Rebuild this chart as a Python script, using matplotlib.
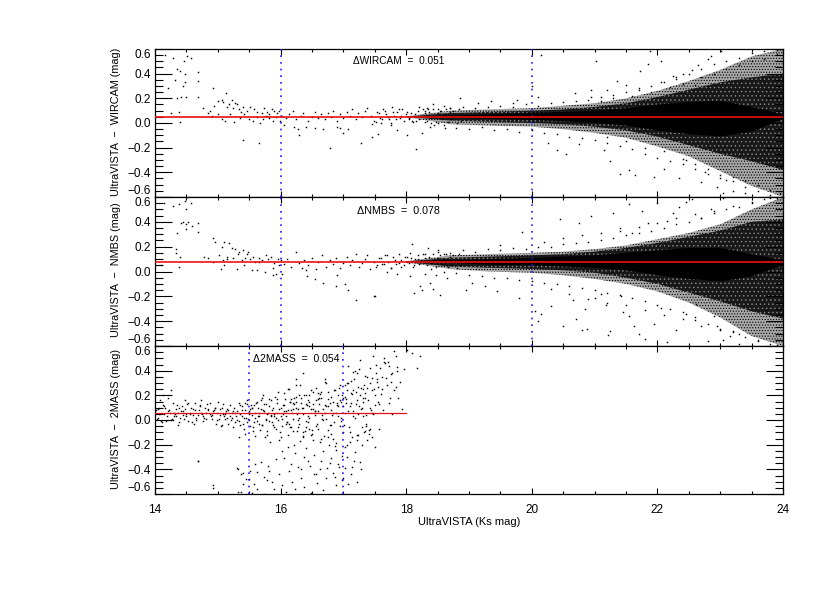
import matplotlib
matplotlib.use("Agg")
import matplotlib.pyplot as plt

plt.rcParams['font.family'] = ['Liberation Sans', 'DejaVu Sans']
plt.rcParams['hatch.linewidth'] = 0.5

# ---- values ----
offset_wircam = 0.051
offset_nmbs = 0.078
offset_2mass = 0.054
x_ticks = [14, 16, 18, 20, 22, 24]
y_ticks = [-0.6, -0.4, -0.2, 0.0, 0.2, 0.4, 0.6]

# edges of the crowded band: outer speckle, denser speckle, solid core
band_x = [18.0, 18.7, 19.3, 20.0, 20.5, 21.0, 21.5, 22.0, 22.5, 23.0, 23.5, 24.0]
w_out_hi = [0.055, 0.10, 0.11, 0.12, 0.14, 0.16, 0.20, 0.26, 0.34, 0.43, 0.54, 0.60]
w_out_lo = [0.047, -0.01, -0.02, -0.03, -0.05, -0.08, -0.12, -0.19, -0.27, -0.39, -0.51, -0.60]
w_mid_hi = [0.052, 0.08, 0.09, 0.10, 0.11, 0.13, 0.16, 0.21, 0.27, 0.33, 0.37, 0.40]
w_mid_lo = [0.050, 0.02, 0.01, 0.00, -0.01, -0.03, -0.06, -0.11, -0.18, -0.25, -0.31, -0.38]
w_core_hi = [0.051, 0.06, 0.07, 0.085, 0.09, 0.10, 0.12, 0.15, 0.17, 0.18, 0.13, 0.07]
w_core_lo = [0.051, 0.04, 0.035, 0.025, 0.015, 0.00, -0.02, -0.06, -0.09, -0.11, -0.07, 0.03]

n_out_hi = [0.083, 0.13, 0.14, 0.15, 0.16, 0.18, 0.21, 0.26, 0.31, 0.38, 0.50, 0.60]
n_out_lo = [0.073, 0.02, 0.00, -0.01, -0.03, -0.06, -0.10, -0.16, -0.25, -0.37, -0.52, -0.60]
n_mid_hi = [0.080, 0.11, 0.12, 0.13, 0.14, 0.16, 0.19, 0.23, 0.28, 0.33, 0.40, 0.42]
n_mid_lo = [0.076, 0.04, 0.03, 0.02, 0.01, -0.01, -0.05, -0.10, -0.17, -0.24, -0.32, -0.38]
n_core_hi = [0.078, 0.09, 0.10, 0.11, 0.12, 0.13, 0.15, 0.17, 0.19, 0.19, 0.14, 0.09]
n_core_lo = [0.078, 0.07, 0.055, 0.05, 0.04, 0.03, 0.01, -0.03, -0.06, -0.08, -0.04, 0.05]

# individual points, upper panel
w_x = [14.16,14.29,14.51,14.57,14.46,14.35,14.40,14.48,14.69,14.32,14.48,14.45,14.69,14.21,14.93,15.13,14.35,14.42,14.49,14.69,
       15.06,15.22,15.27,15.31,14.77,14.88,14.94,15.00,15.08,15.14,15.18,15.25,15.33,15.40,15.46,15.52,15.58,15.63,15.70,15.74,
       15.78,15.82,15.86,15.90,15.95,15.98,14.25,14.39,14.40,14.85,14.90,15.00,15.07,15.11,15.20,15.26,15.35,15.37,15.42,15.50,
       15.56,15.63,15.67,15.72,15.77,15.82,15.88,15.93,15.99,16.03,16.08,16.14,16.20,16.25,16.32,16.36,16.43,16.50,16.55,16.59,
       16.65,16.70,16.75,16.80,16.84,16.90,16.95,17.00,17.05,17.10,17.14,17.20,17.24,17.30,17.34,17.38,17.44,17.49,17.53,17.58,
       17.63,17.68,17.72,17.77,17.80,17.85,17.90,17.94,18.00,18.05,16.05,16.22,16.30,16.40,16.55,16.68,16.78,16.90,17.00,17.08,
       17.28,17.45,17.60,17.75,17.85,18.02,18.20,18.30,18.42,18.55,18.62,18.70,18.50,18.35,18.25,18.15,18.10,18.45,18.60,18.33,
       15.40,15.66,16.28,16.95,17.45,17.55,18.16,18.38,
       20.14,20.00,21.03,20.95,19.77,20.68,20.95,21.20,21.35,21.50,21.70,21.85,22.05,22.25,22.30,22.60,22.05,22.55,22.85,23.02,
       22.45,22.10,21.40,21.15,20.75,20.55,20.40,20.25,21.65,21.95,21.55,21.25,22.35,22.70,22.95,23.20,23.40,22.75,23.10,23.05,
       19.35,19.15,18.85,19.70,20.10,21.72,21.88,22.40,22.65,22.80]
w_y = [0.55,0.53,0.54,0.53,0.50,0.44,0.42,0.40,0.41,0.35,0.33,0.30,0.34,0.28,0.28,0.24,0.20,0.21,0.21,0.21,
       0.19,0.19,0.16,0.15,0.12,0.10,0.14,0.18,0.17,0.13,0.15,0.12,0.11,0.13,0.10,0.13,0.11,0.09,0.08,0.12,
       0.09,0.07,0.11,0.10,0.08,0.10,0.08,0.09,0.01,0.08,0.06,0.07,0.03,0.02,0.07,0.01,0.04,0.09,0.07,0.03,
       0.02,0.05,0.00,0.03,0.06,0.04,0.02,0.05,0.02,0.06,0.04,0.07,0.10,0.03,0.06,0.08,0.02,0.05,0.09,0.04,
       0.07,0.03,0.08,0.05,0.10,0.02,0.07,0.04,0.09,0.06,0.11,0.03,0.08,0.05,0.10,0.12,0.06,0.02,0.09,0.04,
       0.11,0.07,0.03,0.13,0.06,0.09,0.04,0.11,0.07,0.03,-0.02,-0.03,-0.10,-0.03,-0.04,-0.05,-0.20,-0.03,-0.08,-0.05,
       -0.16,-0.01,0.00,-0.02,-0.06,-0.10,0.13,0.01,0.15,0.10,-0.04,0.12,0.00,0.11,-0.08,-0.21,0.02,-0.02,0.14,0.12,
       -0.14,-0.16,-0.05,-0.04,-0.11,-0.09,0.02,-0.03,
       0.55,0.30,0.50,0.21,0.19,0.24,0.27,0.27,0.34,0.31,0.27,0.48,0.33,0.38,0.36,0.31,0.50,0.43,0.54,0.58,
       -0.30,-0.37,-0.41,-0.22,-0.17,-0.25,-0.22,-0.16,-0.42,-0.44,-0.38,-0.31,-0.45,-0.48,-0.52,-0.55,-0.57,-0.40,-0.46,-0.57,
       0.18,0.16,0.20,0.16,0.21,0.42,0.58,0.40,0.47,0.52]

# extra points along the fringe of the band, upper panel
w2_x = [18.3,18.5,18.7,18.9,19.1,19.3,19.5,19.7,19.9,20.1,20.3,20.5,20.7,20.9,21.1,21.3,21.5,21.7,21.9,22.1,22.3,22.5,22.7,22.9,23.1,23.3,23.5,23.7,23.9,
        18.4,18.6,18.8,19.0,19.2,19.4,19.6,19.8,20.0,20.2,20.4,20.6,20.8,21.0,21.2,21.4,21.6,21.8,22.0,22.2,22.4,22.6,22.8,23.0,23.2,23.4,23.6,23.8,
        21.1,21.3,21.6,21.9,22.2,22.4,22.7,22.9,23.1,23.3,23.5,23.7,23.9,21.2,21.5,21.8,22.1,22.4,22.6,22.8,23.0,23.2,23.4,23.6,23.8,23.95,
        17.52,17.57,17.62,17.66,17.71,17.75,17.79,17.83,17.88,17.92,17.96,18.01,18.04,18.08,18.11,18.14,18.18,18.21,18.24,18.27,
        18.30,18.33,18.36,18.39,18.42,18.45,18.48,18.51,18.54,18.57,18.60,18.63,18.66,18.69,18.72,18.75,18.78,18.81,18.84,18.87]
w2_y = [0.10,0.11,0.12,0.13,0.12,0.13,0.14,0.13,0.15,0.14,0.16,0.17,0.18,0.19,0.21,0.23,0.25,0.28,0.30,0.33,0.37,0.40,0.44,0.48,0.50,0.53,0.57,0.58,0.59,
        0.00,-0.02,-0.04,-0.05,-0.03,-0.06,-0.05,-0.07,-0.06,-0.08,-0.09,-0.11,-0.12,-0.14,-0.16,-0.19,-0.21,-0.25,-0.28,-0.31,-0.33,-0.37,-0.41,-0.45,-0.47,-0.52,-0.55,-0.58,
        0.18,0.20,0.22,0.25,0.29,0.32,0.37,0.40,0.44,0.47,0.50,0.52,0.56,-0.11,-0.15,-0.20,-0.23,-0.29,-0.33,-0.37,-0.42,-0.44,-0.47,-0.50,-0.54,-0.57,
        0.01,0.08,0.03,0.10,0.05,0.00,0.09,0.03,0.11,0.06,0.02,0.09,0.04,0.08,0.01,0.07,0.10,0.03,0.06,0.11,
        0.08,0.02,0.09,0.04,0.11,0.06,0.01,0.08,0.10,0.03,0.07,0.11,0.01,0.09,0.03,0.10,0.06,0.00,0.11,0.02]

# individual points, middle panel
n_x = [14.14,14.29,14.38,14.48,14.53,14.57,14.50,14.44,14.42,14.50,14.53,14.59,14.69,14.35,14.49,14.69,14.33,14.33,14.40,14.93,
       14.95,15.06,15.10,15.18,15.27,15.33,15.40,15.46,15.15,15.22,14.78,14.85,14.92,15.02,15.08,15.14,15.25,15.32,15.38,15.44,15.48,15.52,
       15.56,15.60,15.65,15.70,15.76,15.80,15.85,15.90,15.96,16.00,14.10,14.39,15.05,15.10,15.30,15.42,15.55,15.66,15.75,15.88,15.92,15.98,
       16.05,16.10,16.17,16.25,16.30,16.34,16.38,16.44,16.50,16.56,16.60,16.66,16.72,16.78,16.83,16.88,16.94,17.00,17.06,17.10,
       17.14,17.20,17.25,17.30,17.35,17.42,17.48,17.53,17.60,17.65,17.70,17.76,17.82,17.88,17.92,17.98,18.02,18.06,18.12,18.18,
       16.40,16.42,16.55,16.68,16.88,16.90,17.03,17.20,17.50,17.70,18.06,18.10,18.22,18.30,18.35,18.42,18.48,18.54,18.60,18.65,
       18.38,18.25,18.12,17.48,17.85,18.50,17.08,17.38,16.02,15.88,15.62,
       19.50,19.85,20.45,20.75,20.95,21.30,21.55,21.75,22.00,22.15,22.35,22.55,22.70,21.40,21.60,21.85,22.25,22.45,22.85,23.05,
       20.30,20.05,20.50,20.70,21.00,21.25,21.45,21.70,21.95,21.18,20.88,21.55,21.80,22.05,22.30,22.60,22.80,22.95,23.15,23.30,
       19.05,19.25,18.95,19.45,19.80,20.15,20.10,20.80,21.22,20.65,20.85,21.10,21.42,21.62,22.15,22.45,22.62,23.20,22.90,23.05]
n_y = [0.55,0.53,0.54,0.57,0.60,0.55,0.50,0.40,0.39,0.38,0.40,0.37,0.39,0.31,0.34,0.32,0.18,0.15,0.12,0.27,
       0.24,0.20,0.24,0.23,0.18,0.16,0.17,0.14,0.10,0.19,0.12,0.11,0.08,0.13,0.09,0.12,0.11,0.14,0.09,0.11,0.16,0.10,
       0.12,0.08,0.11,0.09,0.13,0.10,0.12,0.07,0.10,0.09,0.05,0.04,0.02,0.05,0.02,0.05,0.01,0.08,0.00,0.03,-0.02,0.05,
       0.06,0.10,0.04,0.16,0.07,0.03,0.09,0.05,0.11,0.02,0.08,0.13,0.04,0.09,0.06,0.11,0.03,0.07,0.12,0.05,
       0.09,0.14,0.04,0.07,0.10,0.02,0.08,0.05,0.11,0.06,0.13,0.03,0.09,0.07,0.04,0.12,0.08,0.15,0.05,0.10,
       0.01,-0.04,-0.06,-0.09,-0.12,-0.03,-0.10,-0.23,-0.20,0.00,-0.04,0.22,-0.12,-0.02,0.19,-0.14,-0.03,-0.19,0.14,-0.05,
       -0.09,-0.15,-0.17,-0.20,-0.02,0.17,-0.15,0.13,-0.02,-0.03,0.01,
       0.21,0.32,0.42,0.39,0.45,0.47,0.54,0.49,0.55,0.41,0.52,0.58,0.43,0.35,0.31,0.39,0.47,0.56,0.50,0.59,
       -0.28,-0.32,-0.44,-0.38,-0.21,-0.48,-0.33,-0.50,-0.42,-0.27,-0.46,-0.36,-0.54,-0.29,-0.47,-0.39,-0.56,-0.44,-0.52,-0.58,
       -0.09,-0.12,-0.15,-0.16,-0.21,-0.34,-0.40,-0.47,-0.51,-0.23,-0.30,-0.18,-0.20,-0.44,-0.57,-0.34,-0.26,-0.48,-0.36,-0.55]

# extra points along the fringe of the band, middle panel
n2_x = [18.3,18.5,18.7,18.9,19.1,19.3,19.5,19.7,19.9,20.1,20.3,20.5,20.7,20.9,21.1,21.3,21.5,21.7,21.9,22.1,22.3,22.5,22.7,22.9,23.1,23.3,23.5,23.7,23.9,
        18.4,18.6,18.8,19.0,19.2,19.4,19.6,19.8,20.0,20.2,20.4,20.6,20.8,21.0,21.2,21.4,21.6,21.8,22.0,22.2,22.4,22.6,22.8,23.0,23.2,23.4,23.6,23.8,
        20.2,20.5,20.8,21.1,21.4,21.7,22.0,22.3,22.6,22.9,23.2,23.5,23.8,20.3,20.6,20.9,21.2,21.5,21.8,22.1,22.4,22.7,23.0,23.3,23.6,23.9,
        17.52,17.57,17.62,17.66,17.71,17.75,17.79,17.83,17.88,17.92,17.96,18.01,18.04,18.08,18.11,18.14,18.18,18.21,18.24,18.27,
        18.30,18.33,18.36,18.39,18.42,18.45,18.48,18.51,18.54,18.57,18.60,18.63,18.66,18.69,18.72,18.75,18.78,18.81,18.84,18.87]
n2_y = [0.14,0.16,0.15,0.17,0.16,0.18,0.17,0.19,0.18,0.20,0.20,0.22,0.23,0.24,0.25,0.27,0.29,0.31,0.33,0.35,0.38,0.40,0.43,0.47,0.50,0.52,0.55,0.58,0.59,
        0.02,0.00,-0.01,-0.03,-0.04,-0.05,-0.05,-0.07,-0.08,-0.09,-0.10,-0.12,-0.13,-0.15,-0.17,-0.19,-0.21,-0.24,-0.27,-0.30,-0.33,-0.37,-0.42,-0.46,-0.49,-0.53,-0.56,-0.58,
        0.24,0.27,0.29,0.31,0.33,0.36,0.39,0.43,0.46,0.49,0.53,0.56,0.59,-0.14,-0.18,-0.22,-0.25,-0.27,-0.31,-0.35,-0.38,-0.44,-0.47,-0.50,-0.55,-0.59,
        0.04,0.11,0.06,0.13,0.08,0.03,0.12,0.06,0.14,0.09,0.05,0.12,0.07,0.11,0.04,0.10,0.13,0.06,0.09,0.14,
        0.11,0.05,0.12,0.07,0.14,0.09,0.04,0.11,0.13,0.06,0.10,0.14,0.04,0.12,0.06,0.13,0.09,0.03,0.14,0.05]

# individual points, lower panel
m_x = [14.02,14.05,14.08,14.12,14.15,14.18,14.21,14.25,14.28,14.30,14.33,14.37,14.40,14.43,14.47,14.50,14.53,14.57,14.60,14.63,
       14.66,14.70,14.73,14.77,14.80,14.83,14.87,14.90,14.93,14.97,15.00,15.03,15.07,15.10,15.13,15.17,15.20,15.23,15.27,15.30,
       14.03,14.07,14.11,14.16,14.20,14.24,14.29,14.34,14.38,14.42,14.46,14.51,14.55,14.59,14.64,14.68,14.72,14.76,14.81,14.85,
       14.89,14.94,14.98,15.02,15.06,15.11,15.15,15.19,15.24,15.28,14.06,14.13,14.27,14.31,14.36,14.44,14.48,14.62,14.75,14.82,
       14.95,15.05,15.12,15.25,15.33,14.69,14.92,15.32,15.34,15.38,15.41,15.44,15.47,15.49,15.52,15.55,15.58,15.61,15.64,15.67,
       15.70,15.73,15.76,15.79,15.82,15.85,15.88,15.91,15.94,15.97,15.35,15.39,15.43,15.46,15.50,15.53,15.56,15.60,15.63,15.66,
       15.69,15.72,15.75,15.78,15.81,15.84,15.87,15.90,15.93,15.96,15.99,15.36,15.42,15.48,15.54,15.59,15.65,15.71,15.77,15.83,
       15.89,15.95,15.37,15.40,15.45,15.51,15.57,15.62,15.68,15.74,15.80,15.86,15.92,15.98,
       16.00,16.03,16.06,16.09,16.12,16.15,16.18,16.21,16.24,16.27,16.30,16.33,16.36,16.39,16.42,16.45,16.48,16.51,16.54,16.57,
       16.60,16.63,16.66,16.69,16.72,16.75,16.78,16.81,16.84,16.87,16.90,16.93,16.96,16.99,
       16.01,16.04,16.07,16.10,16.13,16.16,16.19,16.22,16.25,16.28,16.31,16.34,16.37,16.40,16.43,16.46,16.49,16.52,16.55,16.58,
       16.61,16.64,16.67,16.70,16.73,16.76,16.79,16.82,16.85,16.88,16.91,16.94,16.97,
       16.02,16.05,16.08,16.11,16.14,16.17,16.20,16.23,16.26,16.29,16.32,16.35,16.38,16.41,16.44,16.47,16.50,16.53,16.56,16.59,
       16.62,16.65,16.68,16.71,16.74,16.77,16.80,16.83,16.86,16.89,16.92,16.95,16.98,
       16.03,16.08,16.13,16.18,16.23,16.28,16.33,16.38,16.43,16.48,16.53,16.58,16.63,16.68,16.73,16.78,16.83,16.88,16.93,16.98,
       16.02,16.06,16.11,16.16,16.21,16.26,16.31,16.36,16.41,16.46,16.51,16.56,16.61,16.66,16.71,16.76,16.81,16.86,16.91,16.96,
       17.00,17.03,17.06,17.09,17.12,17.15,17.18,17.21,17.24,17.27,17.30,17.33,17.36,17.39,17.42,17.45,17.48,17.51,17.54,17.57,
       17.60,17.63,17.66,17.69,17.72,17.75,17.78,17.81,17.84,17.87,17.90,17.93,17.96,
       17.01,17.04,17.07,17.10,17.13,17.16,17.19,17.22,17.25,17.28,17.31,17.34,17.37,17.40,17.43,17.46,17.49,17.52,17.55,
       17.02,17.05,17.08,17.11,17.14,17.17,17.20,17.23,17.26,17.29,17.32,17.35,17.38,17.41,17.44,17.47,17.50,17.53,17.56,17.59,
       17.62,17.65,17.68,17.71,17.74,17.77,17.80,17.83,17.86,
       17.02,17.06,17.10,17.14,17.18,17.22,17.26,17.30,17.34,17.38,17.42,17.46,17.50,
       17.00,17.03,17.07,17.12,17.17,17.22,17.28,17.33,17.36,17.47,
       18.02,18.10,18.17,18.22,15.30,15.32,15.37,15.40,15.49,15.55,15.59,15.63,14.69,14.93,15.73,15.78,15.82,15.89]
m_y = [0.08,0.02,0.16,0.12,0.05,-0.01,0.07,0.24,0.14,0.03,0.09,0.06,0.02,0.11,0.16,0.05,-0.01,0.10,0.04,0.14,
       0.02,0.08,0.16,0.03,0.10,0.13,0.05,0.01,0.07,-0.03,0.15,0.04,0.10,0.03,0.07,-0.03,0.12,0.02,0.06,0.00,
       0.01,0.05,-0.02,0.10,0.18,0.06,0.00,0.03,0.10,0.07,0.01,0.13,0.06,-0.02,0.08,0.04,0.11,-0.01,0.06,0.09,
       0.03,0.08,0.06,0.01,-0.04,0.05,0.09,0.03,0.07,-0.02,0.10,0.20,0.01,0.06,-0.04,0.04,0.09,-0.03,0.05,0.01,
       0.10,-0.05,0.01,-0.06,0.14,-0.33,-0.55,-0.40,-0.14,0.08,0.02,-0.11,0.16,0.05,-0.05,0.10,-0.02,0.14,0.03,-0.08,
       0.18,0.07,0.00,-0.12,0.11,0.04,-0.04,0.19,0.06,-0.16,-0.04,0.03,0.14,-0.02,0.07,0.12,-0.09,0.02,0.15,-0.03,
       0.09,0.20,-0.14,0.05,-0.01,0.16,0.08,-0.06,0.02,0.23,-0.10,0.12,-0.07,0.01,0.10,-0.13,0.06,-0.04,0.13,-0.18,
       0.03,0.17,-0.58,-0.43,-0.48,-0.41,-0.52,-0.56,-0.34,-0.46,-0.37,-0.50,-0.32,-0.44,
       0.10,-0.05,0.22,0.03,-0.12,0.15,0.06,-0.20,0.28,0.09,-0.03,0.18,0.38,-0.09,0.12,0.02,0.24,-0.16,0.07,0.16,
       -0.07,0.21,0.04,-0.13,0.30,0.11,-0.04,0.19,0.06,-0.21,0.14,0.26,0.02,-0.10,
       -0.14,0.05,0.17,-0.02,0.25,0.08,-0.09,0.13,0.33,0.00,-0.17,0.10,0.20,-0.06,0.03,0.15,-0.12,0.23,0.07,-0.03,
       0.18,-0.15,0.09,0.31,0.01,-0.08,0.14,0.04,0.24,-0.19,0.11,-0.05,0.20,
       -0.25,-0.31,0.07,-0.22,-0.03,-0.36,0.14,-0.27,-0.09,0.20,-0.40,-0.14,-0.30,-0.23,0.16,-0.37,-0.11,-0.28,-0.44,0.22,
       -0.18,-0.33,-0.25,0.12,-0.39,-0.20,-0.31,-0.15,-0.46,-0.24,-0.36,0.28,-0.29,
       -0.53,-0.58,-0.41,-0.50,-0.56,-0.38,-0.47,-0.54,-0.33,-0.59,-0.44,-0.51,-0.40,-0.57,-0.47,-0.35,-0.43,-0.53,-0.38,-0.49,
       0.01,0.12,0.25,-0.06,0.18,0.05,0.28,0.10,-0.01,0.20,0.09,0.26,0.13,0.01,0.33,0.17,0.08,0.24,0.03,0.15,
       0.18,0.06,0.30,-0.06,0.14,0.24,0.02,0.38,-0.12,0.20,0.10,0.28,-0.03,0.16,0.42,0.06,0.25,0.12,0.33,-0.07,
       0.21,0.08,0.46,0.28,0.14,0.37,0.05,0.24,0.52,0.18,0.31,0.09,0.41,
       -0.04,0.14,0.30,-0.10,0.21,0.07,0.40,-0.16,0.11,0.26,0.03,0.18,0.35,-0.08,0.10,0.24,0.06,0.45,0.15,
       0.19,-0.20,0.44,0.11,-0.14,0.33,0.23,0.05,0.49,-0.06,0.15,0.36,0.26,-0.11,0.08,0.52,0.20,0.31,0.13,0.42,
       0.25,0.50,0.34,0.47,0.18,0.38,0.56,0.27,0.43,
       -0.22,-0.30,-0.18,-0.38,-0.26,-0.12,-0.34,-0.20,-0.09,-0.16,-0.07,-0.14,-0.22,
       -0.47,-0.39,-0.52,-0.44,-0.33,-0.50,-0.40,-0.10,-0.05,0.05,
       0.57,0.54,0.42,0.52,-0.39,-0.58,-0.44,-0.52,-0.48,-0.59,-0.36,-0.42,-0.33,-0.53,-0.60,-0.49,-0.41,-0.56]

# further points of the lower panel's crowded stretch
m2_x = [14.04,14.09,14.14,14.19,14.23,14.26,14.32,14.35,14.39,14.45,14.49,14.52,14.56,14.61,14.65,14.71,14.74,14.78,14.84,14.88,
        14.91,14.96,14.99,15.04,15.08,15.09,15.14,15.16,15.21,15.22,15.26,15.29,15.31,15.33,15.36,15.38,15.40,15.43,15.45,15.47,
        15.50,15.52,15.54,15.56,15.58,15.60,15.62,15.64,15.66,15.68,15.70,15.72,15.74,15.76,15.78,15.80,15.82,15.84,15.86,15.88,
        15.90,15.92,15.94,15.96,15.98,16.00,16.04,16.08,16.12,16.16,16.20,16.24,16.28,16.32,16.36,16.40,16.44,16.48,16.52,16.56,
        16.60,16.64,16.68,16.72,16.76,16.80,16.84,16.88,16.92,16.96,17.00,17.04,17.08,17.12,17.16,17.20,17.24,17.28,17.32,17.36,
        16.10,16.20,16.30,16.40,16.50,16.60,16.70,16.80,16.90,17.02,17.12,17.22,17.32,17.42,17.52,17.62,17.72,16.15,16.35,16.55,
        16.75,16.95,17.15,17.35,17.55,17.75,16.25,16.45,16.65,16.85,17.05,17.25,17.45,17.65,17.85,16.05,16.15,16.25,16.35,16.45]
m2_y = [0.09,-0.01,0.11,0.03,0.08,0.00,0.05,0.12,-0.02,0.07,0.03,0.14,0.05,0.09,0.00,0.12,0.06,0.02,0.08,0.14,
        0.04,0.10,0.00,0.09,0.05,0.13,0.02,0.08,0.00,0.06,0.10,0.03,0.07,-0.01,0.05,0.11,-0.03,0.08,0.02,0.13,
        0.00,0.09,0.04,-0.06,0.12,0.06,-0.01,0.10,0.03,0.16,-0.04,0.08,0.13,0.01,-0.09,0.06,0.17,0.03,-0.02,0.10,
        0.05,-0.07,0.14,0.00,0.09,0.03,0.12,-0.03,0.08,0.17,0.01,0.10,-0.06,0.14,0.05,0.20,-0.02,0.09,0.13,-0.05,
        0.07,0.18,0.00,0.11,0.23,-0.04,0.15,0.06,0.20,-0.01,0.11,0.17,0.07,0.22,0.03,0.13,0.27,0.09,0.18,0.04,
        -0.02,0.09,0.02,0.13,-0.08,0.17,0.06,-0.11,0.12,0.28,0.32,0.16,0.25,0.30,0.38,0.35,0.44,0.15,-0.10,0.04,
        -0.14,0.16,0.39,0.22,0.27,0.31,0.19,-0.07,0.23,-0.02,0.24,0.41,0.34,0.47,0.40,0.07,-0.06,0.15,-0.13,0.11]


def draw_band(ax, x, out_hi, out_lo, mid_hi, mid_lo, core_hi, core_lo):
    ax.fill_between(x, out_lo, out_hi, facecolor='#a8a8a8', edgecolor='black', hatch='......', linewidth=0, zorder=1)
    ax.fill_between(x, mid_lo, mid_hi, facecolor='#181818', edgecolor='#8c8c8c', hatch='....', linewidth=0, zorder=1.5)
    ax.fill_between(x, core_lo, core_hi, facecolor='black', edgecolor='none', linewidth=0, zorder=2)


fig = plt.figure(figsize=(8.30, 5.93), dpi=100)
W, H = 830.0, 593.0
L, R = 155.0, 783.0
edges = [(49.0, 197.0), (197.0, 346.0), (346.0, 494.0)]
axes = [fig.add_axes([L / W, 1 - b / H, (R - L) / W, (b - t) / H]) for t, b in edges]

ylabels = ['UltraVISTA  \u2212  WIRCAM (mag)', 'UltraVISTA  \u2212  NMBS (mag)', 'UltraVISTA  \u2212  2MASS (mag)']
for i, ax in enumerate(axes):
    ax.set_xlim(14, 24)
    ax.set_ylim(-0.6, 0.6)
    ax.set_xticks(x_ticks)
    ax.set_xticks([v / 2 for v in range(28, 49)], minor=True)
    ax.set_yticks(y_ticks)
    ax.set_yticks([v / 20 for v in range(-12, 13)], minor=True)
    ax.tick_params(axis='x', which='major', direction='in', length=4, width=0.8, top=True, bottom=True, labelsize=8.5, pad=7)
    ax.tick_params(axis='x', which='minor', direction='in', length=2, width=0.8, top=True, bottom=True)
    ax.tick_params(axis='y', which='major', direction='in', length=12, width=0.8, left=True, right=True, labelsize=8.5, pad=3)
    ax.tick_params(axis='y', which='minor', direction='in', length=6, width=0.8, left=True, right=True)
    ax.set_yticklabels(['\u22120.6', '\u22120.4', '\u22120.2', '0.0', '0.2', '0.4', '0.6'])
    labs = ax.get_yticklabels()
    labs[0].set_verticalalignment('bottom')
    labs[-1].set_verticalalignment('top')
    if i < 2:
        ax.tick_params(axis='x', labelbottom=False)
    for s in ax.spines.values():
        s.set_linewidth(0.9)
    ax.set_ylabel(ylabels[i], fontsize=7.8)
    ax.yaxis.set_label_coords((121 - L) / (R - L), 0.51)

draw_band(axes[0], band_x, w_out_hi, w_out_lo, w_mid_hi, w_mid_lo, w_core_hi, w_core_lo)
draw_band(axes[1], band_x, n_out_hi, n_out_lo, n_mid_hi, n_mid_lo, n_core_hi, n_core_lo)

for ax, px, py in ((axes[0], w_x + w2_x, w_y + w2_y),
                   (axes[1], n_x + n2_x, n_y + n2_y),
                   (axes[2], m_x + m2_x, m_y + m2_y)):
    ax.scatter(px, py, s=1.1, c='black', marker='s', linewidths=0, zorder=3, snap=False)

for ax, xs in ((axes[0], (16, 20)), (axes[1], (16, 20)), (axes[2], (15.5, 17))):
    for v in xs:
        ax.axvline(v, color='#1a1aff', lw=1.2, linestyle=(0, (1, 3)), zorder=4)

axes[0].axhline(offset_wircam, color='#e81010', lw=1.2, zorder=5)
axes[1].axhline(offset_nmbs, color='#f01010', lw=1.2, zorder=5)
axes[2].plot([14, 18], [offset_2mass, offset_2mass], color='#e01010', lw=0.9, zorder=5)

fig.text(353 / W, 1 - 61 / H, '\u0394WIRCAM  =  0.051', fontsize=7.3, va='center', ha='left')
fig.text(357 / W, 1 - 211 / H, '\u0394NMBS  =  0.078', fontsize=7.7, va='center', ha='left')
fig.text(253 / W, 1 - 359 / H, '\u03942MASS  =  0.054', fontsize=7.6, va='center', ha='left')
axes[2].set_xlabel('UltraVISTA (Ks mag)', fontsize=8, labelpad=1)

fig.savefig('out.png', dpi=100)
